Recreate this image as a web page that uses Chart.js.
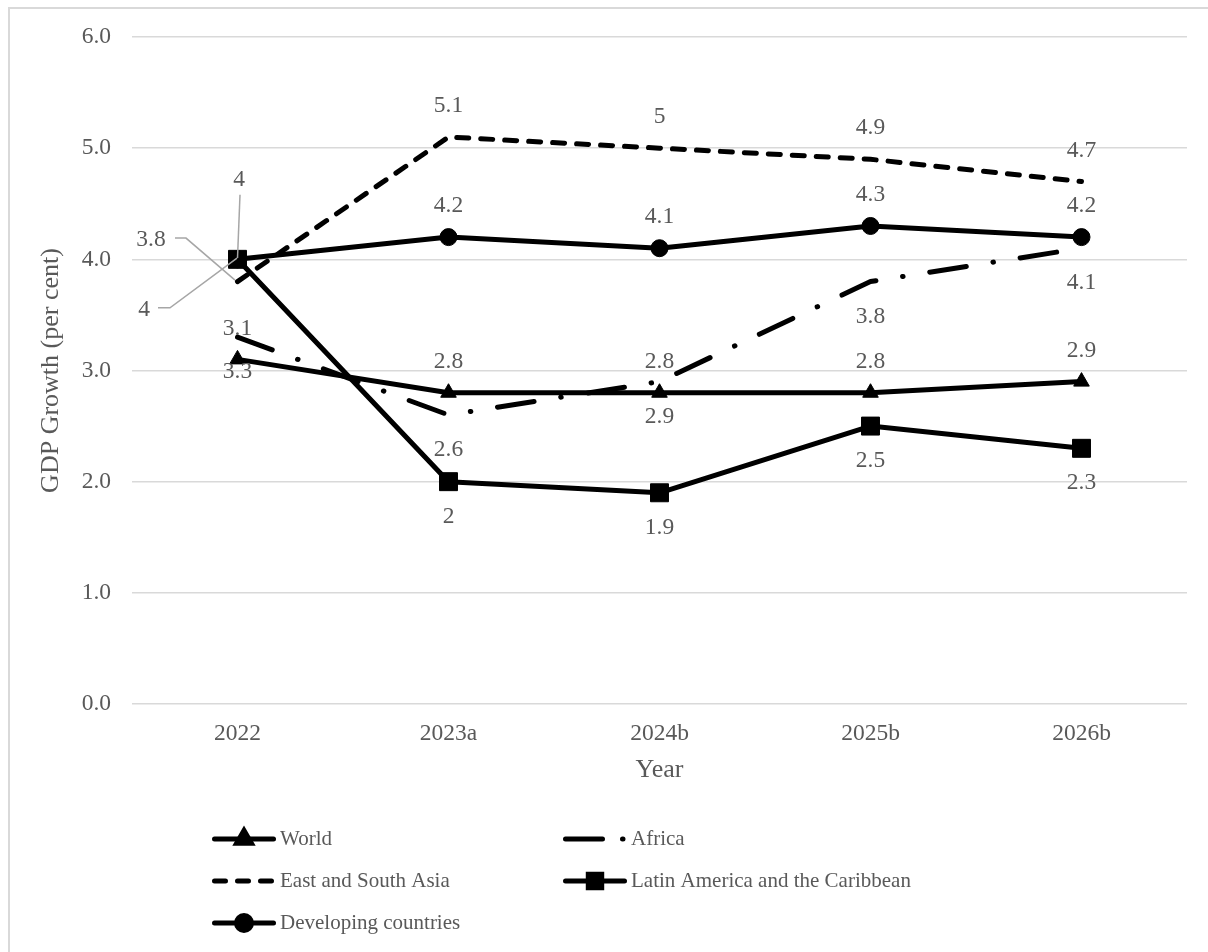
<!DOCTYPE html>
<html>
<head>
<meta charset="utf-8">
<script src="https://cdn.jsdelivr.net/npm/chart.js@4/dist/chart.umd.min.js"></script>
<style>
  html, body { margin: 0; padding: 0; background: #ffffff; }
  canvas { display: block; }
</style>
</head>
<body>
<canvas id="gdp" width="1208" height="952"></canvas>
<script>
// Categories and series values (GDP growth, per cent)
const years = ['2022', '2023a', '2024b', '2025b', '2026b'];
const world = [3.1, 2.8, 2.8, 2.8, 2.9];
const africa = [3.3, 2.6, 2.9, 3.8, 4.1];
const eastSouthAsia = [3.8, 5.1, 5.0, 4.9, 4.7];
const latinAmerica = [4.0, 2.0, 1.9, 2.5, 2.3];
const developing = [4.0, 4.2, 4.1, 4.3, 4.2];
const yTickValues = [0, 1, 2, 3, 4, 5, 6];

const FONT = '"Liberation Serif", "Times New Roman", serif';
const TEXT = '#595959';
const GRID = '#d9d9d9';
const TICK_SIZE = 23.5;
const TITLE_SIZE = 26;
const LEGEND_SIZE = 21;

// Where each value label sits: 'above', 'below', or a callout offset with a leader line
const ABOVE = -31, BELOW = 35;

const datasets = [
  {
    label: 'World', data: world,
    borderDash: [], legendDash: [], pointStyle: 'triangle', pointRadius: 9, legendRadius: 8.5,
    labelPlacement: ['above', 'above', 'above', 'above', 'above']
  },
  {
    label: 'Africa', data: africa,
    borderDash: [37, 27, 0.5, 27], legendDash: [37, 20, 0.5, 40], pointStyle: false, pointRadius: 0,
    labelPlacement: ['below', 'below', 'below', 'below', 'below']
  },
  {
    label: 'East and South Asia', data: eastSouthAsia,
    borderDash: [12, 12], legendDash: [11, 12], pointStyle: false, pointRadius: 0,
    labelPlacement: [
      { dx: -86.5, dy: -41.5, leader: [[-62.5, -43.5], [-51.5, -43.5], [-2.5, -1.5]] },
      'above', 'above', 'above', 'above'
    ]
  },
  {
    label: 'Latin America and the Caribbean', data: latinAmerica,
    borderDash: [], legendDash: [], pointStyle: 'rect', pointRadius: 12.7, legendRadius: 9.5,
    labelPlacement: [
      { dx: -93.5, dy: 50.5, leader: [[-79.5, 48.5], [-67.5, 48.5], [-0.5, -1.3]] },
      'below', 'below', 'below', 'below'
    ]
  },
  {
    label: 'Developing countries', data: developing,
    borderDash: [], legendDash: [], pointStyle: 'circle', pointRadius: 8.5, legendRadius: 7.5,
    labelPlacement: [
      { dx: 1.5, dy: -79.5, leader: [[2.5, -64.5], [0, -1.3]] },
      'above', 'above', 'above', 'above'
    ]
  }
].map(d => Object.assign({
  borderColor: '#000000',
  backgroundColor: '#000000',
  pointBackgroundColor: '#000000',
  pointBorderColor: '#000000',
  pointBorderWidth: 1,
  pointHoverRadius: d.pointRadius,
  borderWidth: 5,
  borderCapStyle: 'round',
  borderJoinStyle: 'round',
  tension: 0,
  fill: false
}, d));

// Outer frame of the chart
const framePlugin = {
  id: 'frame',
  beforeDraw(chart) {
    const ctx = chart.ctx;
    ctx.save();
    ctx.fillStyle = '#ffffff';
    ctx.fillRect(0, 0, chart.width, chart.height);
    ctx.strokeStyle = GRID;
    ctx.lineWidth = 2;
    ctx.strokeRect(9, 8, chart.width + 10, chart.height + 10);
    ctx.restore();
  }
};

// Value labels next to each point
const valueLabelPlugin = {
  id: 'valueLabels',
  afterDatasetsDraw(chart) {
    const ctx = chart.ctx;
    ctx.save();
    ctx.font = TICK_SIZE + 'px ' + FONT;
    ctx.fillStyle = TEXT;
    ctx.textAlign = 'center';
    ctx.textBaseline = 'middle';
    chart.data.datasets.forEach((ds, i) => {
      const meta = chart.getDatasetMeta(i);
      meta.data.forEach((pt, j) => {
        const place = ds.labelPlacement[j];
        const text = String(ds.data[j]);
        let x = pt.x, y = pt.y;
        if (place === 'above') {
          y += ABOVE;
        } else if (place === 'below') {
          y += BELOW;
        } else {
          x += place.dx; y += place.dy;
          ctx.beginPath();
          ctx.strokeStyle = '#a6a6a6';
          ctx.lineWidth = 1.5;
          place.leader.forEach((p, k) => {
            const lx = pt.x + p[0], ly = pt.y + p[1];
            if (k === 0) ctx.moveTo(lx, ly); else ctx.lineTo(lx, ly);
          });
          ctx.stroke();
        }
        ctx.fillText(text, x, y);
      });
    });
    ctx.restore();
  }
};

// Two-column legend below the axis
const legendPlugin = {
  id: 'twoColumnLegend',
  afterDraw(chart) {
    const ctx = chart.ctx;
    const colX = [212, 563];
    const rowY = [839, 881, 923];
    const sampleLen = 64;
    ctx.save();
    chart.data.datasets.forEach((ds, i) => {
      const x0 = colX[i % 2];
      const y = rowY[Math.floor(i / 2)];
      ctx.beginPath();
      ctx.strokeStyle = ds.borderColor;
      ctx.lineWidth = ds.borderWidth;
      ctx.lineCap = 'round';
      ctx.setLineDash(ds.legendDash);
      ctx.moveTo(x0 + 2.5, y);
      ctx.lineTo(x0 + sampleLen - 2.5, y);
      ctx.stroke();
      ctx.setLineDash([]);
      if (ds.pointStyle) {
        Chart.helpers.drawPoint(ctx, {
          pointStyle: ds.pointStyle,
          radius: ds.legendRadius,
          borderWidth: 1
        }, x0 + sampleLen / 2, y);
        ctx.fillStyle = '#000000';
        ctx.strokeStyle = '#000000';
        ctx.fill();
      }
      ctx.fillStyle = TEXT;
      ctx.font = LEGEND_SIZE + 'px ' + FONT;
      ctx.textAlign = 'left';
      ctx.textBaseline = 'middle';
      ctx.fillText(ds.label, x0 + sampleLen + 4, y);
    });
    ctx.restore();
  }
};

new Chart(document.getElementById('gdp'), {
  type: 'line',
  data: { labels: years, datasets: datasets },
  plugins: [framePlugin, valueLabelPlugin, legendPlugin],
  options: {
    responsive: false,
    animation: false,
    devicePixelRatio: 1,
    layout: { padding: { top: 37, right: 21, left: 0, bottom: 0 } },
    plugins: {
      legend: { display: false },
      tooltip: { enabled: false },
      title: { display: false }
    },
    scales: {
      x: {
        offset: true,
        grid: { display: false, drawTicks: false },
        border: { display: false },
        ticks: { color: TEXT, font: { family: FONT, size: TICK_SIZE }, padding: 16 },
        title: {
          display: true, text: 'Year', color: TEXT,
          font: { family: FONT, size: TITLE_SIZE },
          padding: { top: 0, bottom: 166 }
        },
        afterFit(scale) { scale.height = 248; }
      },
      y: {
        min: 0, max: 6,
        afterBuildTicks(scale) { scale.ticks = yTickValues.map(v => ({ value: v })); },
        grid: { color: GRID, lineWidth: 1.5, drawTicks: false },
        border: { display: false },
        ticks: {
          color: TEXT, font: { family: FONT, size: TICK_SIZE }, padding: 21,
          callback: v => Number(v).toFixed(1)
        },
        title: {
          display: true, text: 'GDP Growth (per cent)', color: TEXT,
          font: { family: FONT, size: TITLE_SIZE },
          padding: { top: 36, bottom: 0 }
        },
        afterFit(scale) { scale.width = 132; }
      }
    }
  }
});
</script>
</body>
</html>
